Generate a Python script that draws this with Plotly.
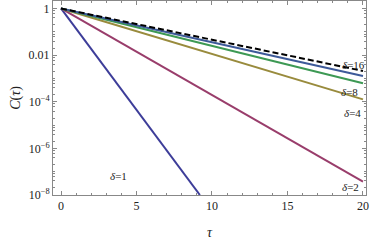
import math
import plotly.graph_objects as go

# Data (C(tau) are straight lines on a log scale)
tau_d1 = [0, 9.2]
c_d1 = [1, 1e-8]
tau_all = [0, 20]
c_d2 = [1, 10**-7.43]
c_d4 = [1, 10**-3.90]
c_d8 = [1, 10**-3.21]
c_d16 = [1, 10**-2.90]
c_lim = [1, 10**-2.68]

labels = ["δ=1", "δ=2", "δ=4", "δ=8", "δ=16"]
label_x = [3.8, 19.2, 19.3, 19.1, 19.4]
label_y = [10**-7.19, 10**-7.65, 10**-4.47, 10**-3.57, 10**-2.42]

yticks = [1, 1e-2, 1e-4, 1e-6, 1e-8]
yticktext = ["1", "0.01", "10<sup>−4</sup>", "10<sup>−6</sup>", "10<sup>−8</sup>"]
xticks = [0, 5, 10, 15, 20]

colors = ["#3d3d99", "#993d6b", "#998b3d", "#3d9954", "#3d5a99"]

fig = go.Figure()
series = [(tau_d1, c_d1), (tau_all, c_d2), (tau_all, c_d4), (tau_all, c_d8), (tau_all, c_d16)]
for (t, c), col in zip(series, colors):
    fig.add_trace(go.Scatter(x=t, y=c, mode="lines", line=dict(color=col, width=2), showlegend=False))
fig.add_trace(go.Scatter(x=tau_all, y=c_lim, mode="lines",
                         line=dict(color="black", width=2, dash="6px,3px"), showlegend=False))

for lx, ly, txt in zip(label_x, label_y, labels):
    fig.add_annotation(x=lx, y=math.log10(ly), yref="y", xref="x", text="<i>δ</i>=" + txt[2:],
                       showarrow=False,
                       font=dict(family="Liberation Serif", size=11, color="#222"))

# minor ticks for log axis
yminor = []
for e in range(-8, 1):
    for m in [2, 4, 6, 8, 10]:
        v = m * 10.0**(e - 1)
        if 1e-8 <= v <= 2:
            yminor.append(v)

axis_font = dict(family="Liberation Serif", size=12, color="#222")
fig.update_layout(
    width=374, height=240,
    margin=dict(l=53, r=8, t=1, b=45, autoexpand=False),
    plot_bgcolor="white", paper_bgcolor="white",
    xaxis=dict(range=[-0.53, 20.2], tickvals=xticks, ticks="inside", ticklen=4,
               tickcolor="#888", showline=True, linecolor="#888", linewidth=1,
               mirror="ticks", showgrid=False, zeroline=False, tickfont=axis_font,
               automargin=False,
               minor=dict(dtick=1, ticks="inside", ticklen=2, tickcolor="#888"),
               title=dict(text="<i>τ</i>", font=dict(family="Liberation Serif", size=14, color="#222"),
                          standoff=14)),
    yaxis=dict(type="log", range=[-8.0, 0.32], tickvals=yticks, ticktext=yticktext,
               ticks="inside", ticklen=4, tickcolor="#888", showline=True, linecolor="#888",
               linewidth=1, mirror="ticks", showgrid=False, zeroline=False, tickfont=axis_font,
               automargin=False,
               minor=dict(tickvals=yminor, ticks="inside", ticklen=2, tickcolor="#888"),
               title=dict(text="<i>C</i>(<i>τ</i>)", font=dict(family="Liberation Serif", size=14, color="#222"),
                          standoff=4)),
)
fig.write_html("out.html", config={"displayModeBar": False},
               post_script="document.body.style.margin='0';")
